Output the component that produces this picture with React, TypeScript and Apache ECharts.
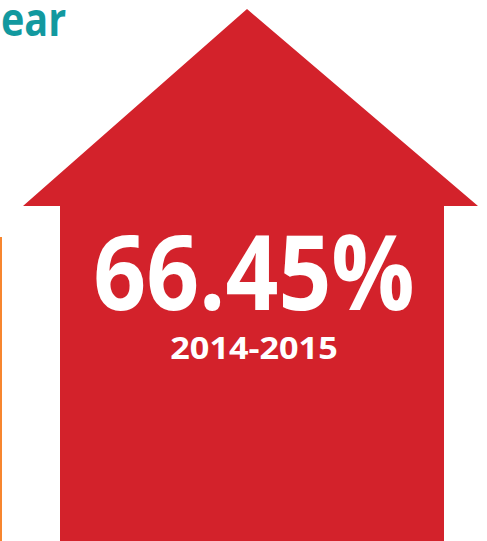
import React, { useEffect, useRef } from "react";
import * as echarts from "echarts";

const titleFragment = ["ear"];
const shareValues = [66.45];
const periodLabels = ["2014-2015"];

export default function App() {
  const ref = useRef<HTMLDivElement>(null);
  useEffect(() => {
    if (!ref.current) return;
    const chart = echarts.init(ref.current, null, { renderer: "svg" });
    const red = "#d3222b";
    const value = shareValues[0];
    chart.setOption({
      animation: false,
      backgroundColor: "#ffffff",
      graphic: [
        {
          type: "polygon",
          shape: {
            points: [
              [247, 9],
              [478, 206],
              [444, 206],
              [444, 541],
              [60, 541],
              [60, 206],
              [23, 206],
            ],
          },
          style: { fill: red },
        },
        {
          type: "rect",
          shape: { x: 0, y: 237, width: 2, height: 304 },
          style: { fill: "#f7862f" },
        },
        {
          type: "text",
          x: 1,
          y: 18,
          scaleX: 0.86,
          style: {
            text: titleFragment[0],
            fill: "#12999f",
            font: "bold 46px 'Open Sans'",
            lineHeight: 28,
            textAlign: "left",
            textVerticalAlign: "middle",
          },
        },
        {
          type: "text",
          x: 254,
          y: 270,
          scaleX: 0.89,
          style: {
            text: value.toFixed(2) + "%",
            fill: "#ffffff",
            font: "bold 104px 'Open Sans'",
            textAlign: "center",
            textVerticalAlign: "middle",
          },
        },
        {
          type: "text",
          x: 254,
          y: 347,
          scaleX: 1.14,
          style: {
            text: periodLabels[0],
            fill: "#ffffff",
            font: "bold 30px 'Open Sans'",
            textAlign: "center",
            textVerticalAlign: "middle",
          },
        },
      ],
    });
    return () => chart.dispose();
  }, []);
  return <div ref={ref} style={{ width: 487, height: 541, position: "fixed", left: 0, top: 0 }} />;
}
